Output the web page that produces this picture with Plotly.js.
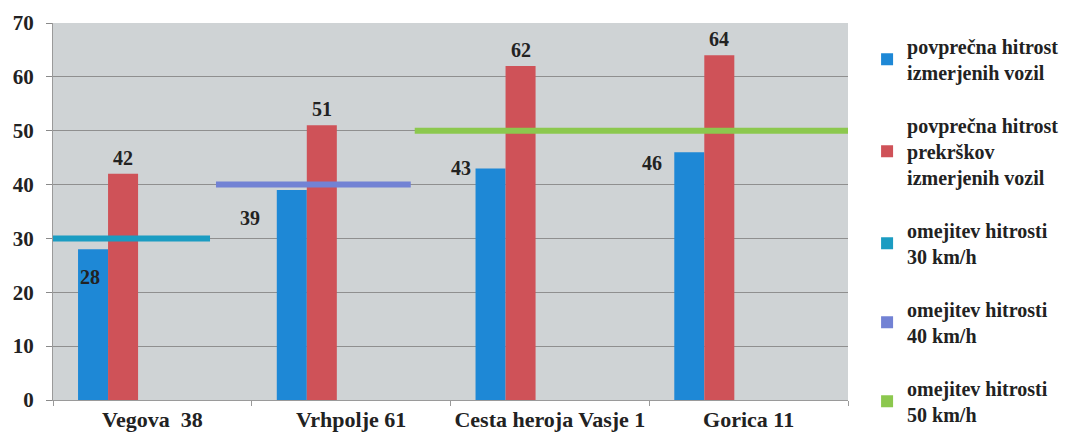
<!DOCTYPE html>
<html>
<head>
<meta charset="utf-8">
<script src="https://cdn.plot.ly/plotly-3.0.1.min.js"></script>
<style>
html,body{margin:0;padding:0;background:#fff;}
#chart{width:1076px;height:441px;}
#chart svg text{font-family:'Liberation Serif','Times New Roman',serif !important;}
</style>
</head>
<body>
<div id="chart"></div>
<script>
// ---- data ----
const categories = ["Vegova  38", "Vrhpolje 61", "Cesta heroja Vasje 1", "Gorica 11"];
const avgSpeed = [28, 39, 43, 46];
const avgViolation = [42, 51, 62, 64];
const limitValues = [30, 40, 50];
const seriesNames = [
  "povprečna hitrost<br>izmerjenih vozil",
  "povprečna hitrost<br>prekrškov<br>izmerjenih vozil",
  "omejitev hitrosti<br>30 km/h",
  "omejitev hitrosti<br>40 km/h",
  "omejitev hitrosti<br>50 km/h"
];
const yTicks = [0, 10, 20, 30, 40, 50, 60, 70];

// ---- layout / style constants ----
const idx = categories.map((_, i) => i);
const barW = 0.151;
const blueOff = -0.374, redOff = blueOff + barW;
const limitSpans = [[-0.5, 0.29], [0.32, 1.3], [1.32, 3.5]];
const limitColors = ["#1b9cc2", "#7282d4", "#8cc84e"];
const blueCol = "#1e88d6", redCol = "#cf5258";
const fontFam = "Liberation Serif";
const blueShift = [[12, -28], [-27, -28], [-15, 0], [-22, -11]];

const traces = [];
traces.push({type: "bar", x: idx, y: avgSpeed, width: barW, offset: blueOff,
  marker: {color: blueCol}, name: seriesNames[0], legendgroup: "a", hoverinfo: "y"});
traces.push({type: "bar", x: idx, y: avgViolation, width: barW, offset: redOff,
  marker: {color: redCol}, name: seriesNames[1], legendgroup: "b", hoverinfo: "y"});
limitValues.forEach((v, k) => {
  traces.push({type: "scatter", mode: "lines", x: limitSpans[k], y: [v, v],
    line: {color: limitColors[k], width: 6}, showlegend: false, legendgroup: "l" + k, hoverinfo: "y"});
  traces.push({type: "bar", x: [0], y: [null], marker: {color: limitColors[k]},
    name: seriesNames[k + 2], legendgroup: "l" + k, showlegend: true});
});

const annotations = [];
idx.forEach(i => {
  annotations.push({x: i + blueOff, y: avgSpeed[i], text: "<b>" + avgSpeed[i] + "</b>", showarrow: false,
    xanchor: "center", yanchor: "middle", xshift: blueShift[i][0], yshift: blueShift[i][1],
    font: {family: fontFam, size: 20, color: "#222"}});
  annotations.push({x: i + redOff + barW / 2, y: avgViolation[i], text: "<b>" + avgViolation[i] + "</b>", showarrow: false,
    xanchor: "center", yanchor: "bottom", yshift: 3,
    font: {family: fontFam, size: 20, color: "#222"}});
});

const layout = {
  width: 1076, height: 441,
  margin: {l: 53, r: 226, t: 23, b: 41},
  paper_bgcolor: "#ffffff", plot_bgcolor: "#cfd3d5",
  barmode: "overlay",
  showlegend: true,
  font: {family: fontFam, size: 17, color: "#222"},
  xaxis: {
    range: [-0.5, 3.5], tickmode: "array", tickvals: idx, ticktext: categories.map(c => "<b>" + c + "</b>"),
    ticks: "", showgrid: false, zeroline: false,
    showline: true, linecolor: "#9a9a9a", linewidth: 1,
    tickfont: {family: fontFam, size: 22, color: "#222"},
    minor: {tickmode: "array", tickvals: [-0.5, 0.5, 1.5, 2.5, 3.5], ticks: "outside", ticklen: 5,
      tickcolor: "#9a9a9a", showgrid: false}
  },
  yaxis: {
    range: [0, 70], tickmode: "array", tickvals: yTicks, ticktext: yTicks.map(t => "<b>" + t + "</b>"),
    ticks: "outside", ticklen: 6, tickcolor: "#8a8a8a", ticklabelstandoff: 8,
    showgrid: true, gridcolor: "#8f8f8f", gridwidth: 1, zeroline: false,
    showline: true, linecolor: "#9a9a9a", linewidth: 1,
    tickfont: {family: fontFam, size: 21, color: "#222"}
  },
  legend: {
    x: 1.024, xanchor: "left", y: 0.99, yanchor: "top",
    traceorder: "grouped", tracegroupgap: 24, itemwidth: 30, maxheight: 440,
    bgcolor: "rgba(0,0,0,0)",
    font: {family: fontFam, size: 20, color: "#222", weight: "bold"}
  },
  annotations: annotations
};

Plotly.newPlot("chart", traces, layout, {displayModeBar: false, staticPlot: true});
</script>
</body>
</html>
